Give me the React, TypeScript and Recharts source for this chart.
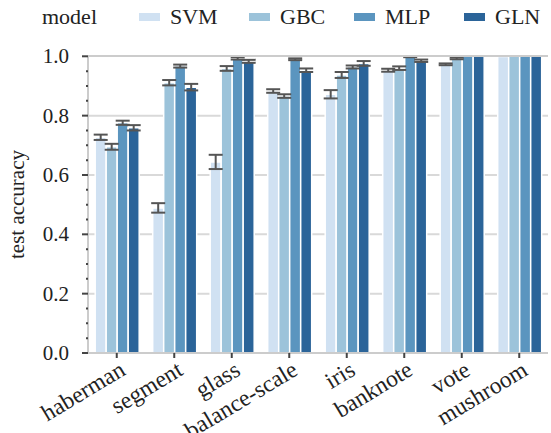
import React from "react";
import {
  BarChart,
  Bar,
  XAxis,
  YAxis,
  CartesianGrid,
  ErrorBar,
} from "recharts";

const categories = ["haberman", "segment", "glass", "balance-scale", "iris", "banknote", "vote", "mushroom"];
const models = ["SVM", "GBC", "MLP", "GLN"];
const colors = ["#d0e1f2", "#9cc3da", "#5b95bf", "#2b6499"];

const svm = [0.727, 0.489, 0.644, 0.883, 0.872, 0.953, 0.973, 0.999];
const gbc = [0.695, 0.911, 0.959, 0.866, 0.937, 0.96, 0.993, 1.0];
const mlp = [0.776, 0.967, 0.993, 0.99, 0.964, 0.999, 1.0, 1.0];
const gln = [0.759, 0.896, 0.983, 0.953, 0.976, 0.985, 1.0, 1.0];

const svmErr = [0.009, 0.016, 0.024, 0.006, 0.014, 0.005, 0.003, null];
const gbcErr = [0.01, 0.009, 0.008, 0.006, 0.01, 0.006, 0.003, null];
const mlpErr = [0.007, 0.005, 0.004, 0.003, 0.005, 0.002, null, null];
const glnErr = [0.009, 0.011, 0.005, 0.006, 0.008, 0.004, null, null];

const yTicks = [0, 0.05, 0.1, 0.15, 0.2, 0.25, 0.3, 0.35, 0.4, 0.45, 0.5, 0.55, 0.6, 0.65, 0.7, 0.75, 0.8, 0.85, 0.9, 0.95, 1.0];
const gridTicks = [0.2, 0.4, 0.6, 0.8];

const legendLeft = [139, 249, 354, 464];

const data = categories.map((name, i) => ({
  name,
  SVM: svm[i],
  GBC: gbc[i],
  MLP: mlp[i],
  GLN: gln[i],
  SVMerr: svmErr[i],
  GBCerr: gbcErr[i],
  MLPerr: mlpErr[i],
  GLNerr: glnErr[i],
}));

const FONT = "Liberation Serif, Times New Roman, Tinos, Noto Serif, DejaVu Serif, Times, serif";

const YTick = (props: any) => {
  const { x, y, payload } = props;
  const v = payload.value;
  const major = Math.abs(Math.round(v * 5) - v * 5) < 1e-6;
  return (
    <g>
      <line x1={x - (major ? 6 : 2)} x2={x} y1={y} y2={y} stroke="#444" strokeWidth={2} />
      {major && (
        <text x={x - 19} y={y} dy={7} textAnchor="end" fontSize={21} fill="#222" style={{ fontFamily: FONT }}>
          {v.toFixed(1)}
        </text>
      )}
    </g>
  );
};

const XTick = (props: any) => {
  const { x, y, payload } = props;
  const tx = x + 10;
  const ty = y + 14;
  return (
    <g transform={`translate(${tx},${ty}) rotate(-31)`}>
      <text x={0} y={0} textAnchor="end" fontSize={23.5} fill="#222" style={{ fontFamily: FONT }}>
        {payload.value}
      </text>
    </g>
  );
};

export default function App() {
  return (
    <div style={{ position: "absolute", left: 0, top: 0, width: 551, height: 433, background: "#fff", fontFamily: FONT }}>
      <BarChart
        width={551}
        height={433}
        data={data}
        margin={{ top: 55, right: 3, bottom: 0, left: 0 }}
        barCategoryGap="12.5%"
        barGap={0}
      >
        <CartesianGrid horizontal vertical={false} horizontalValues={gridTicks} stroke="#d9d9d9" strokeWidth={2} yAxisId={0} />
        <XAxis
          dataKey="name"
          height={80}
          axisLine={{ stroke: "#cccccc", strokeWidth: 2 }}
          tickLine={{ stroke: "#444", strokeWidth: 2 }}
          tickSize={5}
          tickMargin={2}
          tick={<XTick />}
          interval={0}
        />
        <XAxis
          xAxisId="top"
          orientation="top"
          dataKey="name"
          height={1}
          axisLine={{ stroke: "#cccccc", strokeWidth: 2 }}
          tickLine={{ stroke: "#444", strokeWidth: 2 }}
          tickSize={4}
          tick={false}
          interval={0}
        />
        <YAxis
          domain={[0, 1]}
          ticks={yTicks}
          width={88}
          interval={0}
          axisLine={{ stroke: "#cccccc", strokeWidth: 2 }}
          tickLine={false}
          tickSize={0}
          tickMargin={0}
          tick={<YTick />}
          label={{
            value: "test accuracy",
            angle: -90,
            position: "insideLeft",
            dx: 12,
            style: { textAnchor: "middle", fontSize: 21, fill: "#222", fontFamily: FONT },
          }}
        />
        <YAxis
          yAxisId="right"
          orientation="right"
          domain={[0, 1]}
          width={0}
          axisLine={{ stroke: "#cccccc", strokeWidth: 2 }}
          tickLine={false}
          tick={false}
        />
        {models.map((m, i) => (
          <Bar key={m} dataKey={m} fill={colors[i]} stroke="#fff" strokeWidth={1.5} isAnimationActive={false}>
            <ErrorBar dataKey={`${m}err`} width={7} stroke="#555" strokeWidth={2} isAnimationActive={false} />
          </Bar>
        ))}
      </BarChart>
      <div style={{ position: "absolute", left: 42, top: 2, fontSize: 22, color: "#222", lineHeight: "30px" }}>model</div>
      {models.map((m, i) => (
        <div key={m} style={{ position: "absolute", left: legendLeft[i], top: 2, height: 30, display: "flex", alignItems: "center" }}>
          <span style={{ display: "inline-block", width: 21, height: 8, background: colors[i], marginRight: 10 }} />
          <span style={{ fontSize: 22, color: "#222", lineHeight: "30px" }}>{m}</span>
        </div>
      ))}
    </div>
  );
}
